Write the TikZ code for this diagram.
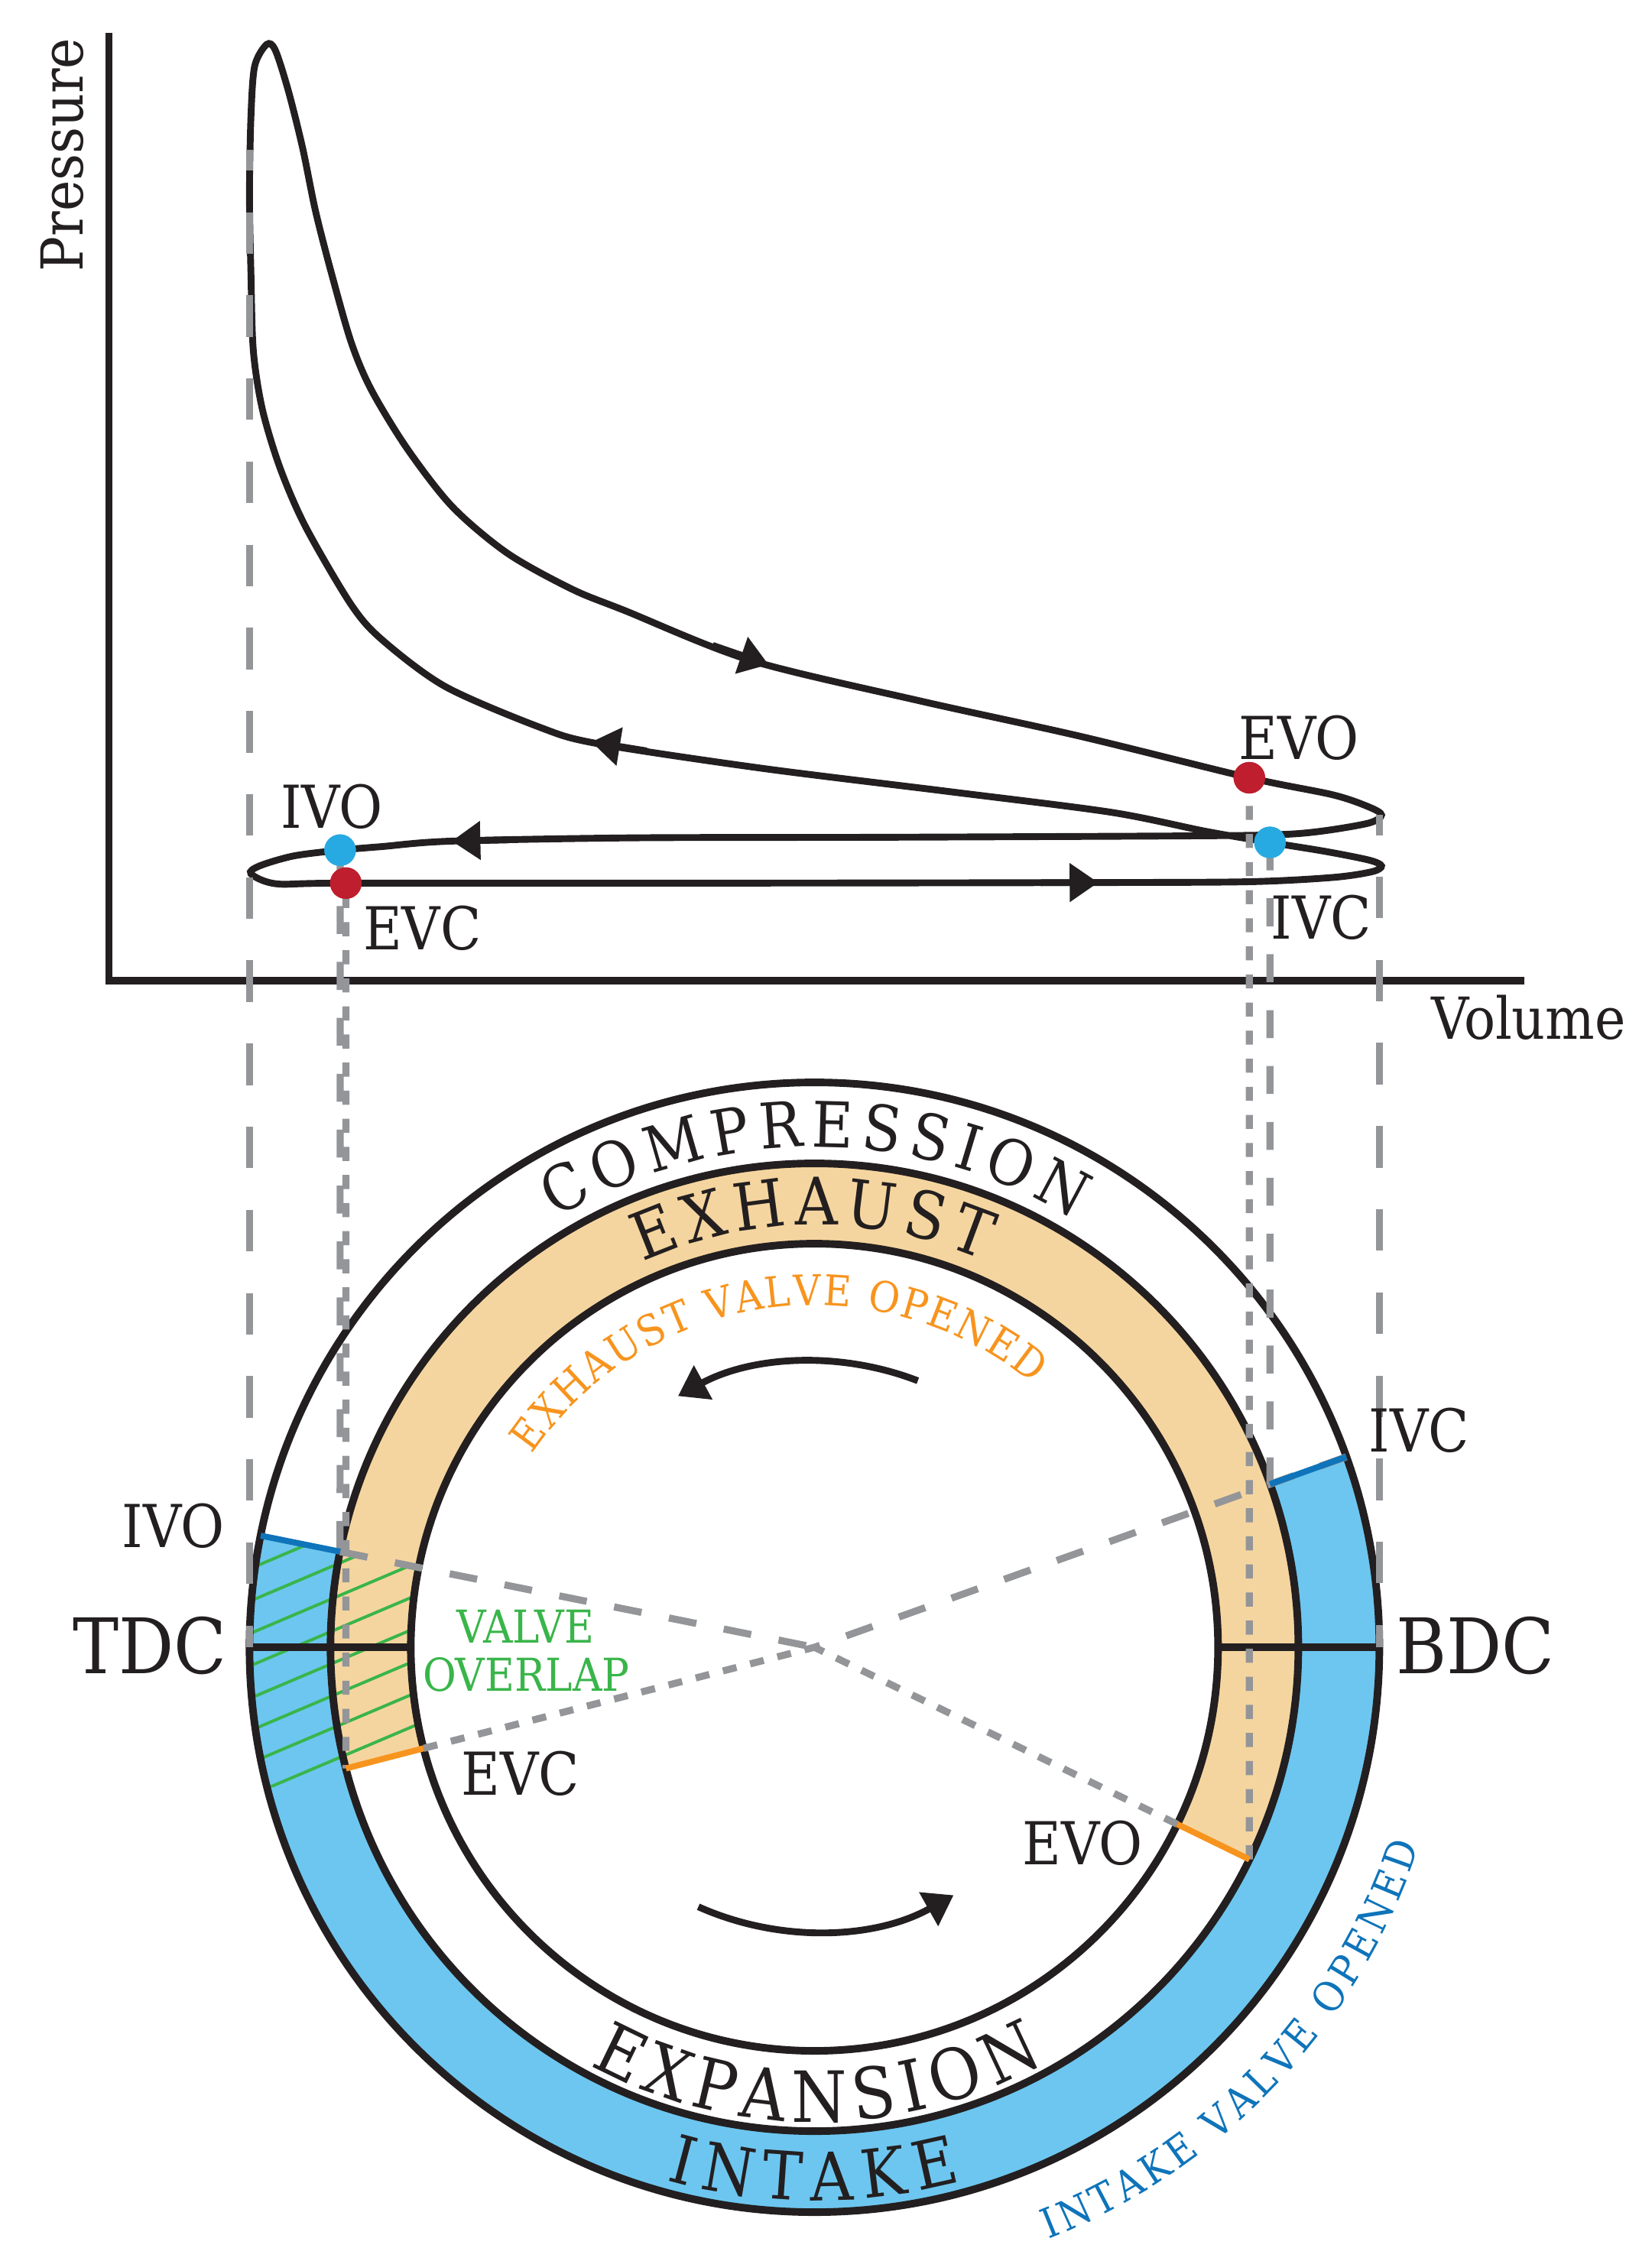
\documentclass[tikz,border=0pt]{standalone}
\usepackage{fontspec}
\setmainfont{DejaVu Serif}[FakeStretch=0.9]
\usepackage{xcolor}
\usepackage{tikz}
\usetikzlibrary{arrows.meta}
\usetikzlibrary{decorations.text}

\definecolor{inkblack}{HTML}{231F20}
\definecolor{guidegray}{HTML}{939598}
\definecolor{intakeblue}{HTML}{6DC6EF}
\definecolor{markblue}{HTML}{0F74BA}
\definecolor{exhausttan}{HTML}{F5D59F}
\definecolor{markorange}{HTML}{F7941E}
\definecolor{overlapgreen}{HTML}{39B54A}
\definecolor{evored}{HTML}{BE1E2D}
\definecolor{ivoblue}{HTML}{27AAE1}

\newcommand\axisfont{\fontsize{23}{25}\selectfont}
\newcommand\eventfont{\fontsize{23.5}{25}\selectfont}
\newcommand\deadfont{\fontsize{30.4}{32}\selectfont}
\newcommand\overlapfont{\fontsize{18}{20}\selectfont}
% letter-spaced fonts for the ring texts
\newcommand\compfont{\fontsize{25}{27}\selectfont\color{inkblack}\kern3.1pt}
\newcommand\exhfont{\fontsize{26}{28}\selectfont\color{inkblack}\kern2.8pt}
\newcommand\expfont{\fontsize{28}{30}\selectfont\color{inkblack}\kern3.1pt}
\newcommand\intfont{\fontsize{26.4}{28}\selectfont\color{inkblack}\kern4pt}
\newcommand\evalvefont{\fontsize{16.8}{18}\selectfont\color{markorange}\kern0.7pt}
\newcommand\ivalvefont{\fontsize{16.4}{18}\selectfont\color{markblue}\kern1.7pt}

\begin{document}
\begin{tikzpicture}
                [x=0.02cm, y=0.02cm,
                 plotlabel/.style = {font=\eventfont, text=inkblack, inner sep=0, anchor=base},
                 deadlabel/.style = {font=\deadfont, text=inkblack, inner sep=0, anchor=base},
                 pvdot/.style = {circle, minimum size=0.44cm, inner sep=0},
                 ring/.style = {draw=inkblack, line width=3pt},
                 pvcurve/.style = {draw=inkblack, line width=2.7pt},
                 pvtip/.style = {draw=inkblack, fill=inkblack, line width=2.7pt, -{Triangle[length=0.40cm, width=0.52cm]}},
                 deadline/.style = {draw=guidegray, line width=2.8pt, dash pattern=on 0.58cm off 0.58cm},
                 inline/.style = {draw=guidegray, line width=2.8pt, dash pattern=on 0.39cm off 0.39cm},
                 exline/.style = {draw=guidegray, line width=2.8pt, dash pattern=on 0.196cm off 0.196cm},
                 hatch/.style = {draw=overlapgreen, line width=1.2pt},
                 valvemark/.style = {line width=2.4pt},
                 ringtext/.style = {decorate, decoration={text along path, text align=center, text={#1}}}]
                \useasboundingbox (0,0) rectangle (1152,1568);

                % Crank circle
                \begin{scope}[shift={(568,419)}]
                    % Valve open bands
                    \fill[intakeblue] (168.6:394) arc[start angle=168.6, end angle=379.7, radius=394]
                        -- (379.7:337.5) arc[start angle=379.7, end angle=168.6, radius=337.5] -- cycle;
                    \fill[exhausttan] (-26:337.5) arc[start angle=-26, end angle=194.5, radius=337.5]
                        -- (194.5:281.5) arc[start angle=194.5, end angle=-26, radius=281.5] -- cycle;
                    % Valve overlap
                    \begin{scope}
                        \clip (168.6:394) arc[start angle=168.6, end angle=194.5, radius=394]
                            -- (194.5:281.5) arc[start angle=194.5, end angle=168.6, radius=281.5] -- cycle;
                        \foreach \k in {-9,...,4}
                            \draw[hatch] (-490,-8.7+22.6*\k) -- (-130,144.1+22.6*\k);
                    \end{scope}
                    % Rings
                    \draw[ring] (0,0) circle[radius=394];
                    \draw[ring] (0,0) circle[radius=337.5];
                    \draw[ring] (0,0) circle[radius=281.5];
                    \draw[ring] (180:394) -- (180:281.5);
                    \draw[ring] (0:281.5) -- (0:394);
                    % Points on the rings
                    \coordinate (cc) at (0,0);
                    \coordinate (tdc) at (180:394);
                    \coordinate (bdc) at (0:394);
                    \coordinate (ivoIn) at (168.6:337.5);
                    \coordinate (ivoOut) at (168.6:394);
                    \coordinate (ivcIn) at (19.7:337.5);
                    \coordinate (ivcOut) at (19.7:394);
                    \coordinate (evoIn) at (-26:281.5);
                    \coordinate (evoOut) at (-26:337.5);
                    \coordinate (evcIn) at (194.5:281.5);
                    \coordinate (evcOut) at (194.5:337.5);
                    % Stroke names
                    \path[ringtext={|\compfont|COMPRESSION}]
                        (140.3:349) arc[start angle=140.3, end angle=40.3, radius=349];
                    \path[ringtext={|\exhfont|EXHAUST}]
                        (140.7:294.5) arc[start angle=140.7, end angle=40.7, radius=294.5];
                    \path[ringtext={|\expfont|EXPANSION}]
                        (219.9:331) arc[start angle=219.9, end angle=319.9, radius=331];
                    \path[ringtext={|\intfont|INTAKE}]
                        (219.4:386) arc[start angle=219.4, end angle=319.4, radius=386];
                    \path[ringtext={|\evalvefont|EXHAUST VALVE OPENED}]
                        (158.1:238.5) arc[start angle=158.1, end angle=38.1, radius=238.5];
                    \path[ringtext={|\ivalvefont|INTAKE VALVE OPENED}]
                        (-78.5:444) arc[start angle=-78.5, end angle=-8.5, radius=444];
                    % Direction of rotation
                    \draw[pvcurve, -{Triangle[length=0.40cm, width=0.52cm]}]
                        (68.8:199.4) arc[start angle=68.8, end angle=118.5, radius=199.4];
                    \draw[pvcurve, -{Triangle[length=0.40cm, width=0.52cm]}]
                        (245.9:198.3) arc[start angle=245.9, end angle=299.3, radius=198.3];
                \end{scope}

                % Axes
                \draw[inkblack, line width=3pt] (76,1545) -- (76,884) -- (1063,884);
                \node[plotlabel, font=\axisfont, anchor=center, rotate=90] (presL) at (43.3,1460) {Pressure};
                \node[plotlabel, font=\axisfont] (volL) at (1066,843) {Volume};

                % p-V loop
                \draw[pvcurve] plot[smooth cycle, tension=0.5] coordinates {
                    (186,1537) (192,1533) (201,1505) (211,1465) (220,1421) (231,1378)
                    (245,1329) (259,1296) (284,1255) (315.5,1214.5) (354,1182) (399,1157)
                    (436,1142) (523,1107.5) (642,1079) (753,1054.5) (871.3,1025.5)
                    (929.5,1013.6) (955,1005) (963.5,999.5) (955,994) (925,988.7)
                    (896,986) (837,985) (620,984) (443,983.6) (315,981.3) (266.5,977.5)
                    (237.2,975) (205,971) (181,964) (175,958.5) (193,951.5) (241.2,952)
                    (500,952) (766,952.4) (872,953) (930,956) (957,960) (963.5,964)
                    (955,968) (925,974) (885.7,980.4) (841,988.1) (775,1001.4)
                    (664,1015.6) (532,1032) (416.8,1049.3) (377,1060.5) (310.7,1089)
                    (266.5,1121.7) (244.8,1146.4) (213,1200.8) (195.3,1241.6)
                    (183,1282.4) (176.7,1323.2) (175,1377.6) (174,1432) (175,1486.4)
                    (177.6,1521.8)};
                \draw[pvtip] (497,1117.8) -- (536,1104.4);
                \draw[pvtip] (451,1044.2) -- (412.4,1050.5);
                \draw[pvtip] (355,982.2) -- (315,981.3);
                \draw[pvtip] (726,952.3) -- (766,952.4);

                % Dots on the loop
                \node[pvdot, fill=evored] (evoD) at (871.3,1025.5) {};
                \node[pvdot, fill=ivoblue] (ivcD) at (885.7,980.4) {};
                \node[pvdot, fill=ivoblue] (ivoD) at (237.2,975) {};
                \node[pvdot, fill=evored] (evcD) at (241.2,952) {};

                % Guide lines
                \coordinate (tdcTop) at (174,1463.3);
                \coordinate (bdcTop) at (962,999.5);
                \draw[deadline, dash phase=0.294cm] (tdcTop) -- (tdc);
                \draw[deadline, dash phase=0.3cm] (bdcTop) -- (bdc);
                \draw[inline] (ivoD.center) -- (ivoIn);
                \draw[inline] (ivcD.center) -- (ivcIn);
                \draw[exline] (evoD.center) -- (evoOut);
                \draw[exline, dash phase=0.24cm] (evcD.center) -- (evcOut);
                \draw[inline] (ivoIn) -- (cc);
                \draw[inline] (ivcOut) -- (cc);
                \draw[exline] (evoIn) -- (cc);
                \draw[exline] (evcIn) -- (cc);

                % Valve marks
                \draw[valvemark, markblue] (ivoIn) -- (ivoOut);
                \draw[valvemark, markblue] (ivcIn) -- (ivcOut);
                \draw[valvemark, markorange] (evoIn) -- (evoOut);
                \draw[valvemark, markorange] (evcIn) -- (evcOut);

                % Dots again on top
                \node[pvdot, fill=evored] (evoDtop) at (evoD) {};
                \node[pvdot, fill=ivoblue] (ivcDtop) at (ivcD) {};
                \node[pvdot, fill=ivoblue] (ivoDtop) at (ivoD) {};
                \node[pvdot, fill=evored] (evcDtop) at (evcD) {};

                % Labels on the loop
                \node[plotlabel] (evoL) at (906,1038.5) {EVO};
                \node[plotlabel] (ivoL) at (231.5,990.5) {IVO};
                \node[plotlabel] (evcL) at (294.5,905.3) {EVC};
                \node[plotlabel] (ivcL) at (921.5,913.2) {IVC};

                % Labels on the circle
                \node[deadlabel] (tdcL) at (104.5,400.6) {TDC};
                \node[deadlabel] (bdcL) at (1029,400.6) {BDC};
                \node[plotlabel] (ivoC) at (120.8,488.6) {IVO};
                \node[plotlabel] (ivcC) at (989.7,555.2) {IVC};
                \node[plotlabel] (evcC) at (363,316) {EVC};
                \node[plotlabel] (evoC) at (755.2,267.4) {EVO};
                \node[plotlabel, font=\overlapfont, text=overlapgreen] (valveL) at (366.5,421.9) {VALVE};
                \node[plotlabel, font=\overlapfont, text=overlapgreen] (overlapL) at (367,388.2) {OVERLAP};
\end{tikzpicture}
\end{document}
